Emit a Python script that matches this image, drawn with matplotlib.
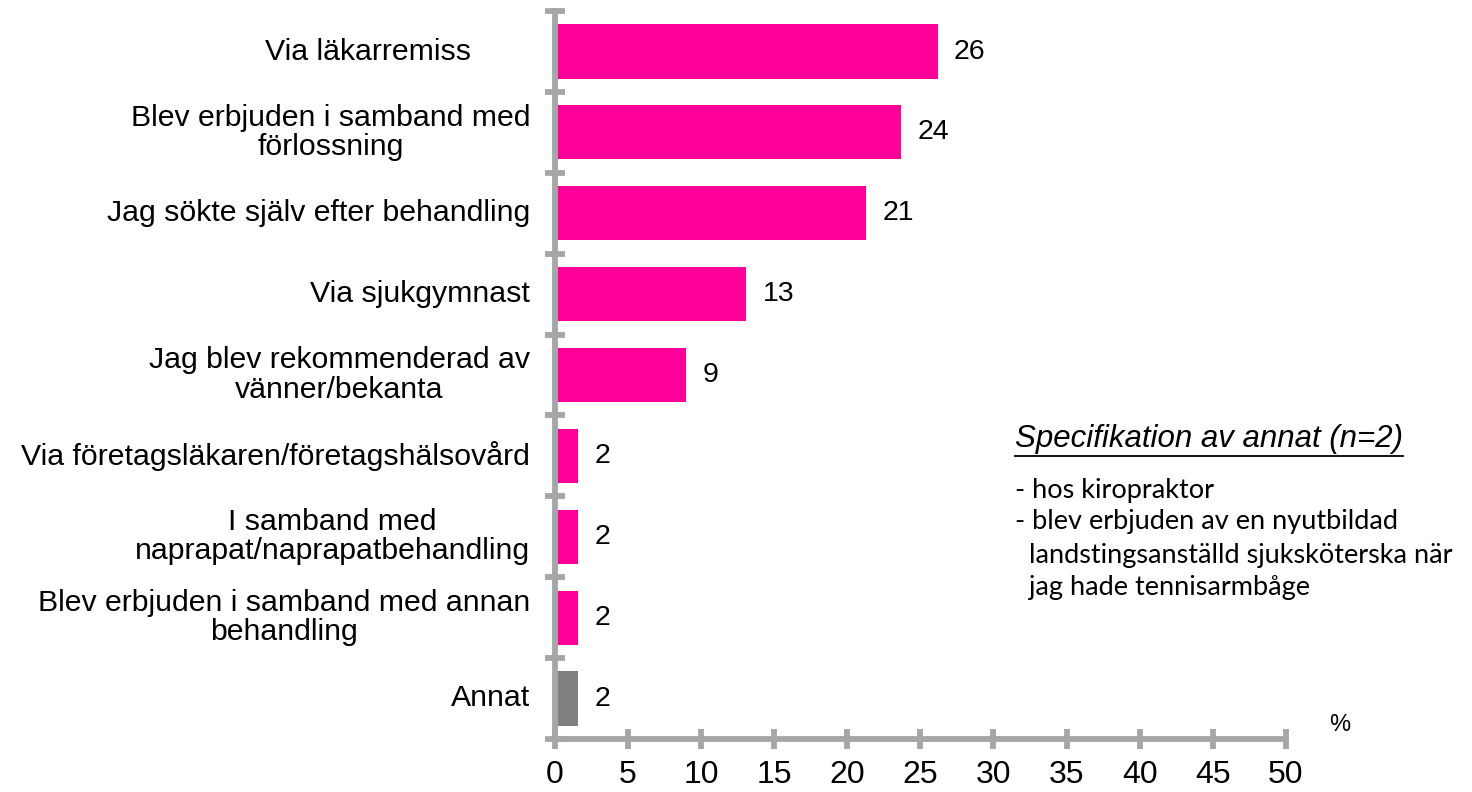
import matplotlib
matplotlib.use("Agg")
import matplotlib.pyplot as plt
import numpy as np

plt.rcParams['font.family'] = ['Liberation Sans', 'DejaVu Sans']

categories = [
    "Via läkarremiss       ",
    "Blev erbjuden i samband med\nförlossning",
    "Jag sökte själv efter behandling",
    "Via sjukgymnast",
    "Jag blev rekommenderad av\nvänner/bekanta",
    "Via företagsläkaren/företagshälsovård",
    "I samband med\nnaprapat/naprapatbehandling",
    "Blev erbjuden i samband med annan\nbehandling",
    "Annat",
]
values = [26.2, 23.7, 21.3, 13.1, 9.0, 1.6, 1.6, 1.6, 1.6]
bar_colors = ["#FF0099"] * 8 + ["#808080"]
xticks = [0, 5, 10, 15, 20, 25, 30, 35, 40, 45, 50]

spec_title = "Specifikation av annat (n=2)"
spec_lines = [
    "- hos kiropraktor",
    "- blev erbjuden av en nyutbildad",
    "  landstingsanställd sjuksköterska när",
    "  jag hade tennisarmbåge",
]
spec_y = [490, 522, 555, 587]

axis_gray = "#A6A6A6"

fig = plt.figure(figsize=(14.72, 7.92), dpi=100)
ax = fig.add_axes([0.377, 0.067, 0.4965, 0.919])

n = len(categories)
pos = np.arange(n)
ax.barh(pos, values, height=0.67, color=bar_colors, zorder=2)
for p, v in zip(pos, values):
    ax.text(v + 1.1, p, f"{round(v):.0f}", va="center", ha="left", fontsize=20.5)

ax.set_ylim(n - 0.5, -0.5)
ax.set_xlim(0, 50)
ax.set_xticks(xticks)
ax.set_xticklabels([str(t) for t in xticks], fontsize=23)

# ticks sit on the category boundaries, labels drawn separately
ax.set_yticks(np.arange(-0.5, n, 1.0))
ax.set_yticklabels([])
for p, lab in zip(pos, categories):
    ax.text(-1.7, p, lab, ha="right", va="center", fontsize=21.8,
            multialignment="center", linespacing=1.05)

for side in ["top", "right"]:
    ax.spines[side].set_visible(False)
for side in ["left", "bottom"]:
    ax.spines[side].set_color(axis_gray)
    ax.spines[side].set_linewidth(4.2)
    ax.spines[side].set_zorder(3)
ax.tick_params(axis="both", direction="inout", length=14, width=4.2,
               color=axis_gray, labelcolor="black")
ax.tick_params(axis="x", pad=8)

ax.text(53.7, 8.33, "%", fontsize=17, ha="center", va="center")

# specification box
t = fig.text(1015 / 1472, 1 - 447 / 792, spec_title, fontsize=22.5,
             style="italic", ha="left", va="baseline")
fig.canvas.draw()
bb = t.get_window_extent()
y_ul = bb.y0 - 2
fig.add_artist(plt.Line2D([bb.x0 / 1472, bb.x1 / 1472], [y_ul / 792, y_ul / 792],
                          color="black", linewidth=1.3))

for line, yy in zip(spec_lines, spec_y):
    fig.text(1015 / 1472, 1 - yy / 792, line, fontsize=19.5,
             family=["Lato", "DejaVu Sans"], ha="left", va="center")

fig.savefig("out.png", dpi=100)
